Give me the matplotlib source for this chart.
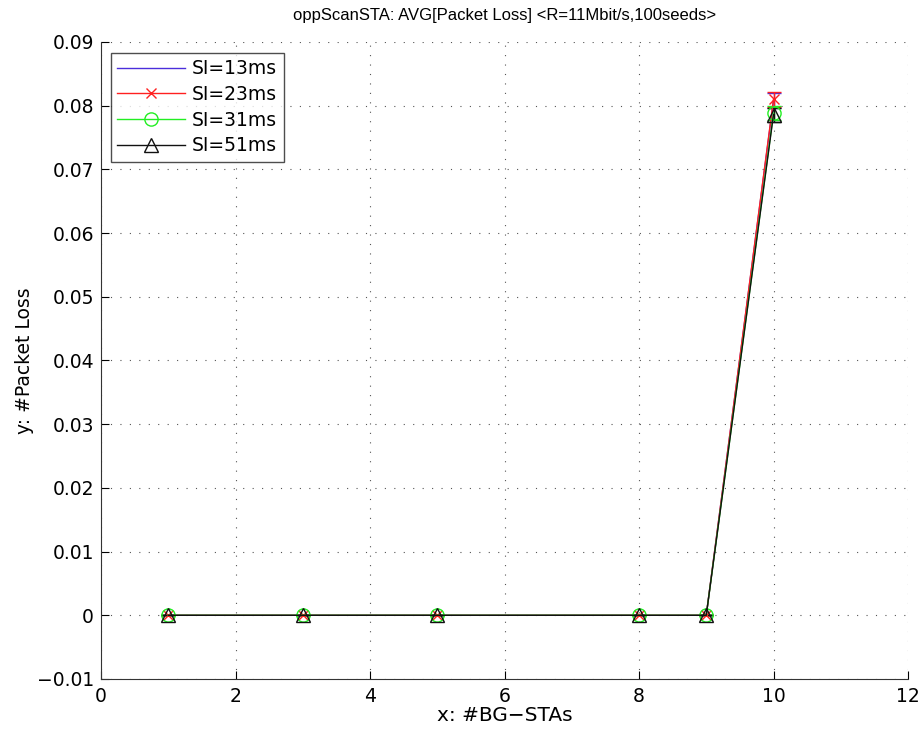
import matplotlib
matplotlib.use("Agg")
import matplotlib.pyplot as plt
import numpy as np

plt.rcParams['font.family'] = ['DejaVu Sans']

x = [1, 3, 5, 8, 9, 10]
labels = ["SI=13ms", "SI=23ms", "SI=31ms", "SI=51ms"]
y13 = [0, 0, 0, 0, 0, 0.0808]
y23 = [0, 0, 0, 0, 0, 0.0810]
y31 = [0, 0, 0, 0, 0, 0.0788]
y51 = [0, 0, 0, 0, 0, 0.0786]
e13 = [0, 0, 0, 0, 0, 0.0012]
e23 = [0, 0, 0, 0, 0, 0.0012]
e31 = [0, 0, 0, 0, 0, 0.0011]
e51 = [0, 0, 0, 0, 0, 0.0011]

series = [
    (y13, e13, '#4B2EDB', None, 8),
    (y23, e23, '#FF2020', 'x', 7),
    (y31, e31, '#22EE22', 'o', 9.5),
    (y51, e51, '#111111', '^', 10),
]

fig = plt.figure(figsize=(9.19, 7.34), dpi=100)
ax = fig.add_axes([101/919, 1-679/734, (908-101)/919, (679-42)/734])

handles = []
for (ys, es, c, m, ms), lab in zip(series, labels):
    ax.errorbar(x, ys, yerr=es, color=c, lw=1.0, capsize=4.7, capthick=1.0,
                elinewidth=1.0, fmt='none', zorder=2)
    h, = ax.plot(x, ys, color=c, lw=1.0, marker=m, ms=ms,
                 mfc='none', mec=c, mew=1.0, label=lab, zorder=3)
    handles.append(h)

ax.set_xlim(0, 12)
ax.set_ylim(-0.01, 0.09)
ax.set_xticks(np.arange(0, 13, 2))
ax.set_yticks(np.arange(-0.01, 0.0901, 0.01))
ax.set_yticklabels(['\u22120.01', '0', '0.01', '0.02', '0.03', '0.04', '0.05',
                    '0.06', '0.07', '0.08', '0.09'])
ax.tick_params(direction='in', length=6, labelsize=13.5, width=0.8)
ax.tick_params(axis='y', pad=5)
ax.tick_params(axis='x', pad=6)
ax.grid(True, linestyle=(0, (1, 7.5)), color='#555555', lw=0.8)
for s in ['top', 'right']:
    ax.spines[s].set_visible(False)
for s in ['left', 'bottom']:
    ax.spines[s].set_color('#333333')

ax.set_title('oppScanSTA: AVG[Packet Loss] <R=11Mbit/s,100seeds>', fontsize=12,
             pad=16, family=['Liberation Sans'])
ax.set_xlabel('x: #BG\u2212STAs', fontsize=14.5, labelpad=0)
ax.set_ylabel('y: #Packet Loss', fontsize=13.5, labelpad=2)

leg = ax.legend(handles=handles, loc='upper left', bbox_to_anchor=(0.012, 0.983),
                fontsize=13.5, frameon=True, fancybox=False, edgecolor='#222222',
                borderpad=0.35, handlelength=3.6, labelspacing=0.35, handletextpad=0.4,
                borderaxespad=0)
leg.get_frame().set_linewidth(1.0)

fig.savefig('out.png', dpi=100, facecolor='white')
